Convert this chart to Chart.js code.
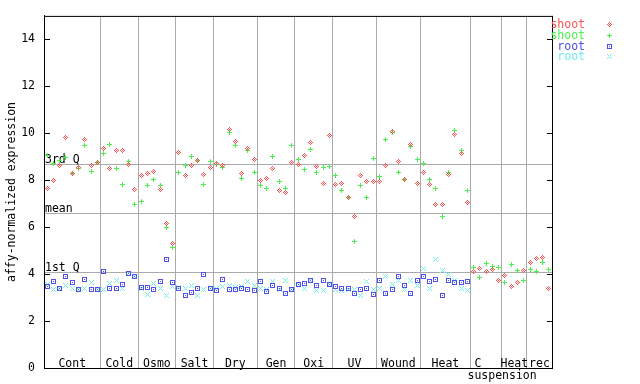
<!DOCTYPE html>
<html><head><meta charset="utf-8">
<script src="https://cdn.jsdelivr.net/npm/chart.js@4/dist/chart.umd.min.js"></script>
<style>html,body{margin:0;padding:0;background:#fff}#wrap{width:640px;height:384px}</style>
</head><body><div id="wrap"><canvas id="c" width="640" height="384"></canvas></div>
<script>
// ---- data ----
const groupLabels = ['Cont','Cold','Osmo','Salt','Dry','Gen','Oxi','UV','Wound','Heat',['C','suspension'],'Heat','rec'];
const groupSizes  = [9,6,6,6,7,6,6,7,7,8,5,4,4];
const seriesNames = ['shoot','shoot','root','root'];
const shootRep1 = [
  7.66,7.97,8.64,9.83,8.28,8.54,9.74,8.64,8.77,
  9.37,8.52,9.27,9.27,8.68,7.59,
  8.19,8.28,8.39,7.59,6.15,5.31,
  9.19,8.22,8.64,8.85,8.26,8.56,
  8.73,8.64,10.17,9.65,8.29,9.36,8.89,
  7.97,8.09,8.52,7.55,7.46,8.77,
  8.68,9.06,9.61,8.60,7.88,9.91,
  7.80,7.88,7.25,6.45,8.22,7.93,7.93,
  7.93,8.64,10.08,8.81,8.05,9.53,7.88,
  8.35,7.80,6.96,6.96,8.26,9.96,9.15,7.04,
  4.12,4.26,4.13,4.22,3.75,
  3.96,3.46,3.63,4.17,
  4.51,4.68,4.72,3.41];
const shootRep2 = [
  9.07,8.72,8.86,8.99,8.28,8.52,9.48,8.36,8.77,
  9.15,9.53,8.52,7.81,8.81,6.96,
  7.10,7.76,8.05,7.76,5.99,5.14,
  8.31,8.64,9.02,8.85,7.84,8.81,
  8.68,8.56,10.03,9.49,8.09,9.27,8.35,
  7.76,7.67,9.02,7.93,7.67,9.49,
  8.90,8.47,9.32,8.35,8.56,8.60,
  8.22,7.55,7.25,5.40,7.76,7.25,8.94,
  8.14,9.74,10.03,8.31,8.05,9.44,8.90,
  8.73,8.05,7.67,6.45,8.35,10.12,9.27,7.55,
  4.30,3.84,4.47,4.34,4.30,
  3.63,4.43,4.17,3.75,
  4.22,4.13,4.51,4.22];
const rootRep1 = [
  3.46,3.69,3.40,3.88,3.63,3.36,3.79,3.33,3.33,
  4.13,3.37,3.41,3.55,4.03,3.88,
  3.43,3.43,3.33,3.67,4.64,3.64,
  3.38,3.09,3.22,3.41,3.98,3.37,
  3.30,3.79,3.33,3.33,3.37,3.33,3.29,
  3.67,3.26,3.50,3.41,3.16,3.33,
  3.54,3.60,3.71,3.50,3.71,3.54,
  3.46,3.41,3.41,3.16,3.33,3.37,3.12,
  3.71,3.16,3.33,3.92,3.50,3.16,3.75,
  3.88,3.67,3.79,3.08,3.71,3.63,3.63,3.67];
const rootRep2 = [
  3.54,3.33,3.40,3.51,3.38,3.36,3.40,3.64,3.34,
  3.33,3.60,3.72,3.41,4.03,3.88,
  3.37,3.13,3.60,3.41,3.09,3.47,
  3.45,3.37,3.51,3.09,3.33,3.37,
  3.40,3.47,3.51,3.45,3.48,3.67,3.51,
  3.41,3.33,3.67,3.33,3.72,3.33,
  3.54,3.41,3.71,3.30,3.29,3.54,
  3.33,3.29,3.33,3.33,3.08,3.67,3.33,
  3.41,3.92,3.54,3.71,3.33,3.75,3.50,
  4.26,3.37,4.64,4.17,4.00,3.75,3.37,3.29];
const quartile3 = 8.68, meanValue = 6.61, quartile1 = 4.08;
const yTicks = [0,2,4,6,8,10,12,14];
const yMax = 15;

// ---- styling ----
const FONT_FAMILY = '"DejaVu Sans Mono", "Liberation Mono", monospace';
const FONT = '11.5px ' + FONT_FAMILY;
const GRID = '#aaaaaa';
const COLORS = ['#ff5252','#4cf04c','#5050f0','#70eeee'];

function makeMarker(kind, color){
  const c = document.createElement('canvas');
  c.width = 5; c.height = 5;
  const g = c.getContext('2d');
  g.fillStyle = color;
  const px = (x,y)=>g.fillRect(x,y,1,1);
  for (let dy=-2; dy<=2; dy++) for (let dx=-2; dx<=2; dx++){
    const X = dx+2, Y = dy+2, d = Math.abs(dx)+Math.abs(dy);
    if (kind==='diamond' && d<=2 && d%2===0) px(X,Y);
    if (kind==='plus' && (dx===0 || dy===0)) px(X,Y);
    if (kind==='square' && (Math.abs(dx)===2 || Math.abs(dy)===2 || (dx===0&&dy===0))) px(X,Y);
    if (kind==='cross' && Math.abs(dx)===Math.abs(dy)) px(X,Y);
  }
  return c;
}
const markers = [makeMarker('diamond',COLORS[0]), makeMarker('plus',COLORS[1]),
                 makeMarker('square',COLORS[2]), makeMarker('cross',COLORS[3])];

const toPoints = arr => arr.map((v,i)=>({x:i+0.5, y:v}));
const allSeries = [shootRep1, shootRep2, rootRep1, rootRep2];
const totalSamples = groupSizes.reduce((s,n)=>s+n,0);
const bounds = []; { let acc=0; groupSizes.forEach(n=>{acc+=n; bounds.push(acc);}); }

const overlay = {
  id:'overlay',
  beforeDatasetsDraw(chart){
    const {ctx, chartArea:a, scales:{x,y}} = chart;
    ctx.save();
    ctx.lineWidth = 1;
    ctx.font = FONT;
    // quartile / mean lines
    [[quartile3,'3rd Q'],[meanValue,'mean'],[quartile1,'1st Q']].forEach(([v,t])=>{
      const py = Math.round(y.getPixelForValue(v))+0.5;
      ctx.strokeStyle = GRID;
      ctx.beginPath(); ctx.moveTo(a.left+1,py); ctx.lineTo(a.right,py); ctx.stroke();
      ctx.fillStyle = '#000'; ctx.textAlign='left'; ctx.textBaseline='alphabetic';
      ctx.fillText(t, a.left+1, py-1.5);
    });
    // top and right border
    ctx.strokeStyle = '#000';
    ctx.beginPath();
    ctx.moveTo(a.left, a.top+0.5); ctx.lineTo(a.right+1, a.top+0.5);
    ctx.moveTo(a.right+0.5, a.top); ctx.lineTo(a.right+0.5, a.bottom+1);
    yTicks.forEach(v=>{
      const py = Math.round(y.getPixelForValue(v))+0.5;
      ctx.moveTo(a.left, py); ctx.lineTo(a.left+6, py);
      ctx.moveTo(a.right-5, py); ctx.lineTo(a.right+1, py);
    });
    ctx.stroke();
    // group labels
    ctx.fillStyle = '#000';
    let start = 0;
    groupSizes.forEach((n,gi)=>{
      const lab = groupLabels[gi];
      const x0 = x.getPixelForValue(start), x1 = x.getPixelForValue(start+n);
      if (Array.isArray(lab)){
        ctx.textAlign='left';
        ctx.fillText(lab[0], x0+4, a.bottom-1);
        ctx.fillText(lab[1], x0-3, a.bottom+11);
      } else {
        ctx.textAlign='center';
        ctx.fillText(lab, (x0+x1)/2, a.bottom-1);
      }
      start += n;
    });
    ctx.restore();
    ctx.imageSmoothingEnabled = false;
  },
  afterDraw(chart){
    const {ctx, chartArea:a} = chart;
    ctx.save();
    ctx.imageSmoothingEnabled = false;
    ctx.font = FONT; ctx.textAlign='right'; ctx.textBaseline='alphabetic';
    chart.data.datasets.forEach((ds,i)=>{
      const cy = Math.round(24 + i*10.8);
      ctx.fillStyle = COLORS[i];
      ctx.fillText(ds.label, a.right+33, cy+4);
      ctx.drawImage(markers[i], a.right+55, cy-2);
    });
    ctx.restore();
  }
};

new Chart(document.getElementById('c'), {
  type:'scatter',
  data:{ datasets: allSeries.map((arr,i)=>({
    label: seriesNames[i], data: toPoints(arr), pointStyle: markers[i],
    borderColor: COLORS[i], backgroundColor: COLORS[i], pointRadius:3, showLine:false
  }))},
  options:{
    responsive:false, animation:false, devicePixelRatio:1, events:[],
    layout:{padding:{left:0, top:13, right:88, bottom:15}},
    plugins:{legend:{display:false}, tooltip:{enabled:false}},
    scales:{
      x:{ type:'linear', min:0, max:totalSamples,
          afterBuildTicks: s => { s.ticks = bounds.slice(0,-1).map(v=>({value:v})); },
          afterFit: s => { s.height = 0; },
          ticks:{display:false},
          grid:{color:GRID, lineWidth:1, drawTicks:false},
          border:{display:true, color:'#000', width:1} },
      y:{ type:'linear', min:0, max:yMax,
          afterBuildTicks: s => { s.ticks = yTicks.map(v=>({value:v})); },
          afterFit: s => { s.width = 44; },
          ticks:{color:'#000', font:{family:FONT_FAMILY, size:11.5}, padding:9},
          grid:{display:false, drawTicks:false},
          border:{display:true, color:'#000', width:1},
          title:{display:true, text:'affy-normalized expression', color:'#000',
                 font:{family:FONT_FAMILY, size:11.5}, padding:{top:5,bottom:0}} }
    }
  },
  plugins:[overlay]
});
</script></body></html>
